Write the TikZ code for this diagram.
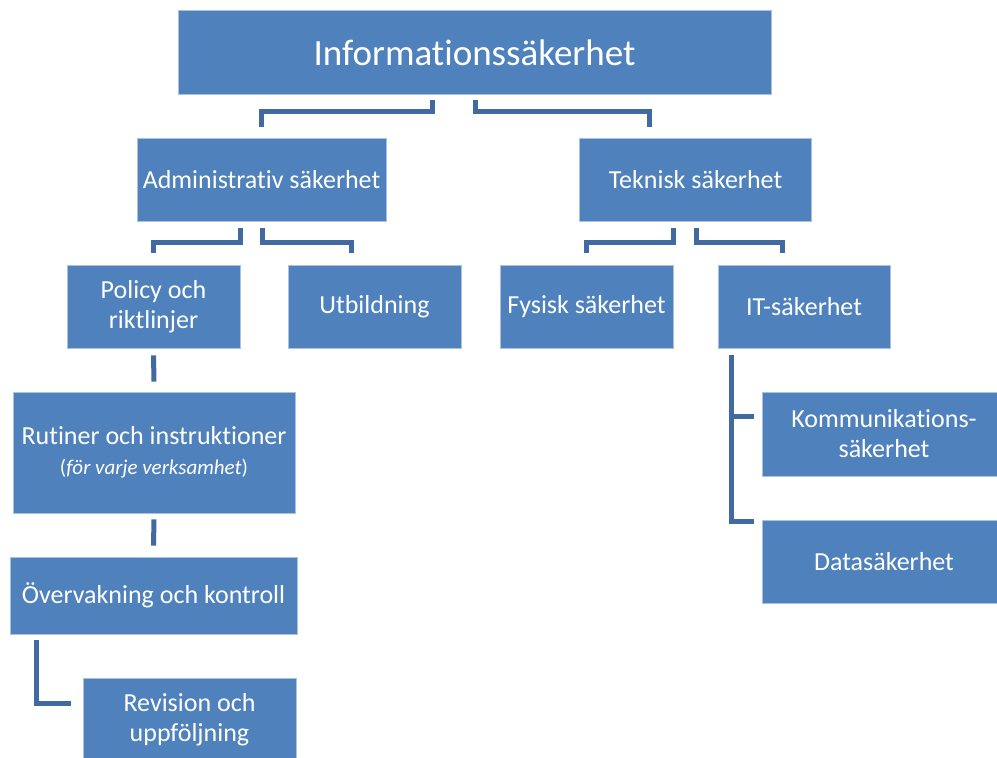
\documentclass[tikz,border=0pt]{standalone}
\usepackage{fontspec}
\setmainfont{Carlito}[Ligatures=NoCommon]
\definecolor{boxblue}{RGB}{79,129,189}
\definecolor{boxedge}{RGB}{170,194,224}
\definecolor{connblue}{RGB}{64,106,160}
\tikzset{
  box/.style={rectangle, fill=boxblue, draw=boxedge, line width=0.8pt, text=white,
    align=center, inner sep=0pt, font=\fontsize{26}{30}\selectfont},
  conn/.style={draw=connblue, line width=5pt, line join=miter}
}
\begin{document}
\begin{tikzpicture}[x=1pt,y=1pt]
\useasboundingbox (0,0) rectangle (997,758);
%\draw[step=50pt,gray,very thin] (0,0) grid (997,758); %background grid

\node[box, minimum width=593pt, minimum height=84pt, font=\fontsize{37}{40}\selectfont] (info) at (474.5,705.5) {Informationssäkerhet};

\node[box, minimum width=249pt, minimum height=83pt] (admin) at (261.5,578.5) {Administrativ säkerhet};
\node[box, minimum width=232pt, minimum height=83pt] (tek)   at (695.5,578.5) {Teknisk säkerhet};

\node[box, minimum width=173pt, minimum height=83pt] (policy) at (153.5,451.5) {Policy och\\riktlinjer};
\node[box, minimum width=173pt, minimum height=83pt] (utb)    at (374.5,451.5) {Utbildning};
\node[box, minimum width=173pt, minimum height=83pt] (fys)    at (586.5,451.5) {Fysisk säkerhet};
\node[box, minimum width=172pt, minimum height=83pt] (it)     at (804,451.5)   {IT-säkerhet};

\node[box, minimum width=282pt, minimum height=121pt] (rutiner)  at (154,305.5)   {Rutiner och instruktioner\\{\fontsize{21}{30}\selectfont(\textit{för varje verksamhet})}};
\node[box, minimum width=287pt, minimum height=77pt]  (overv)    at (153.5,162.5) {Övervakning och kontroll};
\node[box, minimum width=213pt, minimum height=84pt]  (revision) at (189.5,38)    {Revision och\\uppföljning};

\node[box, minimum width=244pt, minimum height=84pt] (komm) at (884,324)   {Kommunikations-\\säkerhet};
\node[box, minimum width=244pt, minimum height=83pt] (data) at (884,196.5) {Datasäkerhet};

%--------------------------------------------------------
\draw[conn] ([xshift=-42.5pt,yshift=-5pt]info.south) -- ++(0,-12) -| ([yshift=11pt]admin.north);
\draw[conn] ([xshift=0.5pt,yshift=-5pt]info.south)   -- ++(0,-12) -| ([xshift=-46pt,yshift=11pt]tek.north);

\draw[conn] ([xshift=-21.5pt,yshift=-7pt]admin.south) -- ++(0,-14) -| ([yshift=12pt]policy.north);
\draw[conn] ([xshift=0.5pt,yshift=-7pt]admin.south)   -- ++(0,-14) -| ([xshift=-23.5pt,yshift=12pt]utb.north);
\draw[conn] ([xshift=-22.5pt,yshift=-7pt]tek.south)   -- ++(0,-14) -| ([yshift=12pt]fys.north);
\draw[conn] ([xshift=0.5pt,yshift=-7pt]tek.south)     -- ++(0,-14) -| ([xshift=-22pt,yshift=12pt]it.north);

\draw[conn] ([yshift=-7pt]policy.south) -- ([yshift=10pt]rutiner.north);
\draw[conn] ([yshift=-6pt]rutiner.south) -- ([yshift=11pt]overv.north);
\draw[conn] ([xshift=27pt,yshift=-6pt]overv.south west) |- ([xshift=-12pt,yshift=16pt]revision.west);

\draw[conn] ([xshift=14pt,yshift=-7pt]it.south west) |- ([xshift=-8pt,yshift=17pt]komm.west);
\draw[conn] ([xshift=14pt,yshift=-7pt]it.south west) |- ([xshift=-8pt,yshift=40pt]data.west);
\end{tikzpicture}
\end{document}
